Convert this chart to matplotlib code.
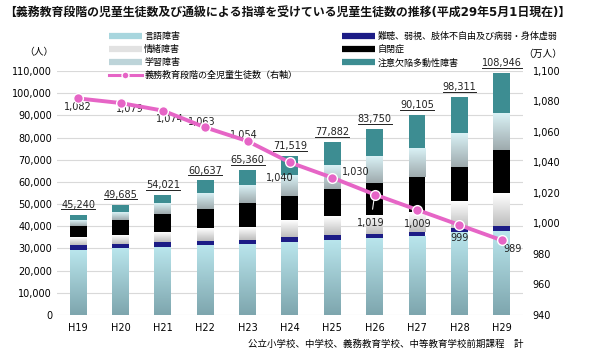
import numpy as np
import matplotlib.pyplot as plt
from matplotlib.colors import LinearSegmentedColormap
from matplotlib.lines import Line2D
from matplotlib.ticker import FuncFormatter, MultipleLocator
from matplotlib.transforms import IdentityTransform

plt.rcParams['font.family'] = ['DejaVu Sans', 'Noto Sans CJK JP']

# ---- data ----
years = ['H19', 'H20', 'H21', 'H22', 'H23', 'H24', 'H25', 'H26', 'H27', 'H28', 'H29']
gengo = [29134, 29860, 30600, 31200, 31600, 32700, 33600, 34500, 35300, 37000, 37561]   # 言語障害
nancho = [2319, 2100, 2100, 2100, 2300, 2300, 2300, 2200, 2200, 2000, 2529]              # 難聴・弱視 等
jocho = [3197, 3700, 4500, 5700, 5800, 7400, 8300, 8300, 9000, 12000, 14609]             # 情緒障害
jihei = [5469, 7047, 8100, 9000, 10800, 11200, 12400, 14500, 15800, 15500, 19567]        # 自閉症
ld = [2485, 3572, 4650, 6800, 7700, 9400, 10600, 11800, 13000, 15000, 16545]             # 学習障害
adhd = [2636, 3406, 4071, 5837, 7160, 8519, 10682, 12450, 14805, 16811, 18135]           # 注意欠陥多動性障害
all_students = [1082, 1079, 1074, 1063, 1054, 1040, 1030, 1019, 1009, 999, 989]         # 万人

# label offsets (pixels) for the line values
line_lbl_off = [(0, -9), (9, -6), (7, -8), (-3, 5), (-4, 6), (-10, -16),
                (23, 6), (-4, -28), (1, -14), (0, -13), (11, -9)]

PINK = '#e665c6'


def gradient_bars(ax, bars, c_bottom, c_top):
    cmap = LinearSegmentedColormap.from_list('g', [c_bottom, c_top])
    grad = np.linspace(0, 1, 64).reshape(-1, 1)
    for b in bars:
        x0, y0 = b.get_xy()
        ax.imshow(grad, cmap=cmap, origin='lower', aspect='auto', interpolation='bilinear',
                  extent=(x0, x0 + b.get_width(), y0, y0 + b.get_height()),
                  zorder=b.get_zorder() + 0.1)


fig = plt.figure(figsize=(5.92, 3.51), dpi=100)
ax = fig.add_axes([0.0963, 0.1026, 0.787, 0.6952])

x = np.arange(len(years))
w = 0.4
layers = [
    (gengo, '#9fcfd8', ('#7ea6ae', '#b9e5ec')),
    (nancho, '#1c1c86', None),
    (jocho, '#e6e6e6', ('#bdbdbd', '#ffffff')),
    (jihei, '#000000', None),
    (ld, '#c3dde2', ('#9eaaad', '#d9f1f5')),
    (adhd, '#3d8d92', None),
]
bottom = np.zeros(len(years))
for vals, col, grad in layers:
    bars = ax.bar(x, vals, w, bottom=bottom, color=col, zorder=2)
    if grad:
        gradient_bars(ax, bars, grad[0], grad[1])
    bottom += np.array(vals)
totals = bottom

ax.set_xlim(-0.5, len(years) - 0.5)
ax.set_ylim(0, 110000)
ax.yaxis.set_major_locator(MultipleLocator(10000))
ax.yaxis.set_major_formatter(FuncFormatter(lambda v, p: f'{int(v):,}'))
ax.set_xticks(x)
ax.set_xticklabels(years)
ax.grid(axis='y', color='#d9d9d9', lw=0.8)
ax.set_axisbelow(True)
for s in ax.spines.values():
    s.set_visible(False)
ax.tick_params(axis='y', length=0, labelsize=7, pad=3.6)
ax.tick_params(axis='x', length=0, labelsize=7, pad=6)

total_texts = []
for xi, t in zip(x, totals):
    tt = ax.annotate(f'{int(t):,}', (xi, t), xytext=(0, 3.5), textcoords='offset points',
                     ha='center', va='bottom', fontsize=7, color='#222222')
    total_texts.append(tt)

# right axis: line
ax2 = ax.twinx()
ax2.plot(x, all_students, color=PINK, lw=2.8, marker='o', ms=7,
         markerfacecolor=PINK, markeredgecolor='white', markeredgewidth=1.0, zorder=5)
ax2.set_ylim(940, 1100)
ax2.yaxis.set_major_locator(MultipleLocator(20))
ax2.yaxis.set_major_formatter(FuncFormatter(lambda v, p: f'{int(v):,}'))
for s in ax2.spines.values():
    s.set_visible(False)
ax2.tick_params(axis='y', length=0, labelsize=7, pad=7)
for xi, v, off in zip(x, all_students, line_lbl_off):
    arrow = None
    if years[xi] == 'H26':
        arrow = dict(arrowstyle='-', color='#f2f2f2', lw=0.8, shrinkA=4, shrinkB=3)
    ax2.annotate(f'{v:,}', (xi, v), xytext=off, textcoords='offset pixels',
                 ha='center', va='center', fontsize=7, color='#222222', arrowprops=arrow)

# legends
def hline(c):
    return Line2D([], [], color=c, lw=4.5, solid_capstyle='butt')

left_h = [hline('#a8d6de'), hline('#e2e2e2'), hline('#bdd4d9'),
          Line2D([], [], color=PINK, lw=2.2, marker='o', ms=5,
                 markerfacecolor=PINK, markeredgecolor='white')]
left_l = ['言語障害', '情緒障害', '学習障害', '義務教育段階の全児童生徒数（右軸）']
right_h = [hline('#1c1c86'), hline('#000000'), hline('#3d8d92')]
right_l = ['難聴、弱視、肢体不自由及び病弱・身体虚弱', '自閉症', '注意欠陥多動性障害']
common = dict(frameon=False, fontsize=6.5, borderpad=0, borderaxespad=0,
              handlelength=3.6, handletextpad=0.3, labelspacing=0.45, loc='upper left')
fig.legend(left_h, left_l, bbox_to_anchor=(109 / 592, 1 - 32 / 351), **common)
fig.legend(right_h, right_l, bbox_to_anchor=(342 / 592, 1 - 31.5 / 351), **common)

# texts
fig.text(4 / 592, 1 - 13 / 351,
         '【義務教育段階の児童生徒数及び通級による指導を受けている児童生徒数の推移(平成29年5月1日現在)】',
         fontsize=8.6, fontweight='bold', va='center', ha='left', color='#111111')
fig.text(39 / 592, 1 - 52 / 351, '（人）', fontsize=7, ha='center', va='center')
fig.text(543 / 592, 1 - 54 / 351, '（万人）', fontsize=7, ha='center', va='center')
fig.text(523 / 592, 1 - 344 / 351, '公立小学校、中学校、義務教育学校、中等教育学校前期課程　計',
         fontsize=6.8, ha='right', va='center')

# underline the totals
fig.canvas.draw()
for tt in total_texts:
    bb = tt.get_window_extent()
    fig.add_artist(Line2D([bb.x0, bb.x1], [bb.y0 + 0.5, bb.y0 + 0.5], transform=IdentityTransform(),
                          color='#222222', lw=0.7))

fig.savefig('out.png', dpi=100)
